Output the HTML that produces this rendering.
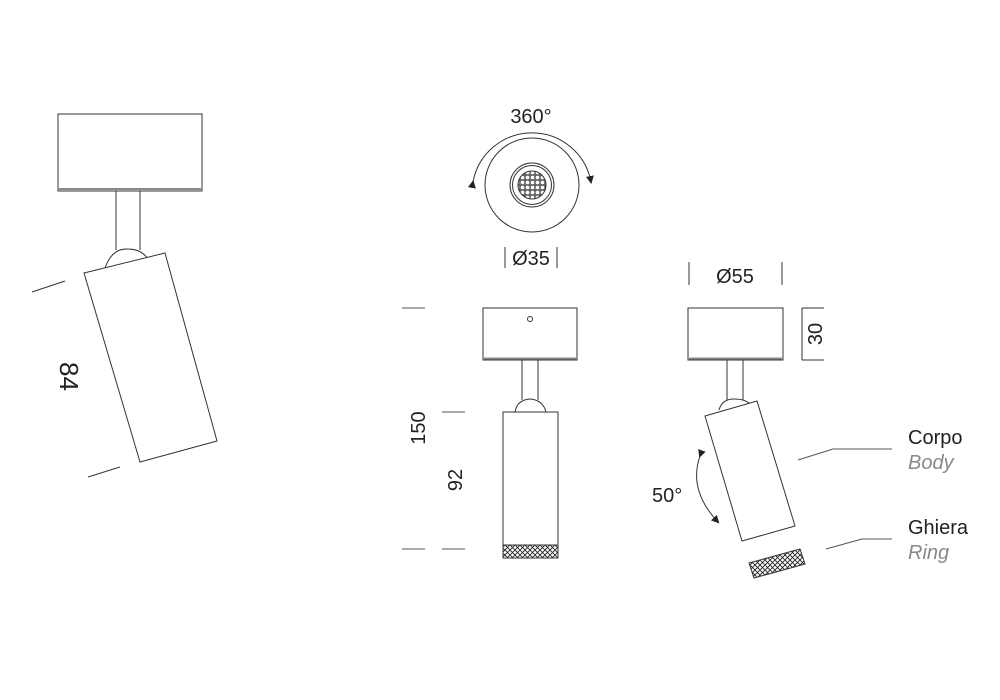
<!DOCTYPE html>
<html><head><meta charset="utf-8"><style>
html,body{margin:0;padding:0;background:#fff;}
svg{display:block;}
text{font-family:"Liberation Sans",sans-serif;}
</style></head><body>
<svg width="1000" height="700" viewBox="0 0 1000 700" xmlns="http://www.w3.org/2000/svg">
<defs>
<pattern id="kn" width="5" height="5" patternUnits="userSpaceOnUse">
<rect width="5" height="5" fill="#fff"/>
<path d="M0 0L5 5M5 0L0 5" stroke="#222" stroke-width="0.9"/>
</pattern>
<pattern id="hc" width="5" height="5" patternUnits="userSpaceOnUse">
<rect width="5" height="5" fill="#666"/>
<circle cx="2.5" cy="2.5" r="1.8" fill="#fff"/>
</pattern>
<marker id="ah" markerWidth="8" markerHeight="8" refX="6" refY="4" orient="auto" markerUnits="userSpaceOnUse">
<path d="M0 0L8 4L0 8Z" fill="#222"/>
</marker>
</defs>
<g fill="none" stroke="#333" stroke-width="1">
<rect x="58" y="114" width="144" height="77" fill="#fff"/>
<line x1="59" y1="189" x2="201" y2="189" stroke="#888" stroke-width="2"/>
<path d="M116 191V250M140 191V250"/>
<path d="M105 268Q112 248 128 249Q143 249 150 262"/>
<polygon points="84,273 165,253 217,441 140,462" fill="#fff"/>
<line x1="32" y1="292" x2="65" y2="281"/>
<line x1="88" y1="477" x2="120" y2="467"/>

<circle cx="532" cy="185" r="47"/>
<circle cx="532" cy="185" r="22"/>
<circle cx="532" cy="185" r="19.5"/>
<circle cx="532" cy="185" r="14" fill="url(#hc)" stroke="#333"/>
<path d="M473 182A60 60 0 0 1 591 182" marker-start="url(#ah)" marker-end="url(#ah)"/>
<path d="M505 247V268M557 247V268"/>

<rect x="483" y="308" width="94" height="52" fill="#fff"/>
<line x1="484" y1="358.5" x2="576" y2="358.5" stroke="#888" stroke-width="2"/>
<circle cx="530" cy="319" r="2.5"/>
<path d="M522 360V400M538 360V400"/>
<path d="M515 412Q517 400 530 399Q543 400 546 412"/>
<rect x="503" y="412" width="55" height="133" fill="#fff"/>
<rect x="503" y="545" width="55" height="13" fill="url(#kn)"/>
<path d="M402 308H425M402 549H425M442 412H465M442 549H465" stroke="#555"/>

<path d="M689 262V285M782 262V285"/>
<rect x="688" y="308" width="95" height="52" fill="#fff"/>
<line x1="689" y1="358.5" x2="782" y2="358.5" stroke="#888" stroke-width="2"/>
<path d="M802 308V360M802 308H824M802 360H824"/>
<path d="M727 360V400M743 360V400"/>
<path d="M719 410Q722 399 734 399Q745 399 750 404"/>
<polygon points="705,416 757,401 795,526 742,541" fill="#fff"/>
<polygon points="749,563 800,549 805,564 754,578" fill="url(#kn)"/>
<path d="M700 456Q688 490 718 522" marker-start="url(#ah)" marker-end="url(#ah)"/>
<path d="M798 460L833 449H892M826 549L862 539H892" stroke="#555"/>
</g>
<g fill="#222">
<text x="0" y="0" font-size="26" transform="translate(60,362) rotate(90)">84</text>
<text x="531" y="123" font-size="20" text-anchor="middle">360°</text>
<text x="531" y="265" font-size="20" text-anchor="middle">Ø35</text>
<text x="0" y="0" font-size="20" text-anchor="middle" transform="translate(425,428) rotate(-90)">150</text>
<text x="0" y="0" font-size="20" text-anchor="middle" transform="translate(462,480) rotate(-90)">92</text>
<text x="735" y="283" font-size="20" text-anchor="middle">Ø55</text>
<text x="0" y="0" font-size="20" text-anchor="middle" transform="translate(822,334) rotate(-90)">30</text>
<text x="652" y="502" font-size="20">50°</text>
<text x="908" y="444" font-size="20">Corpo</text>
<text x="908" y="469" font-size="20" font-style="italic" fill="#888">Body</text>
<text x="908" y="534" font-size="20">Ghiera</text>
<text x="908" y="559" font-size="20" font-style="italic" fill="#888">Ring</text>
</g>
</svg>
</body></html>
